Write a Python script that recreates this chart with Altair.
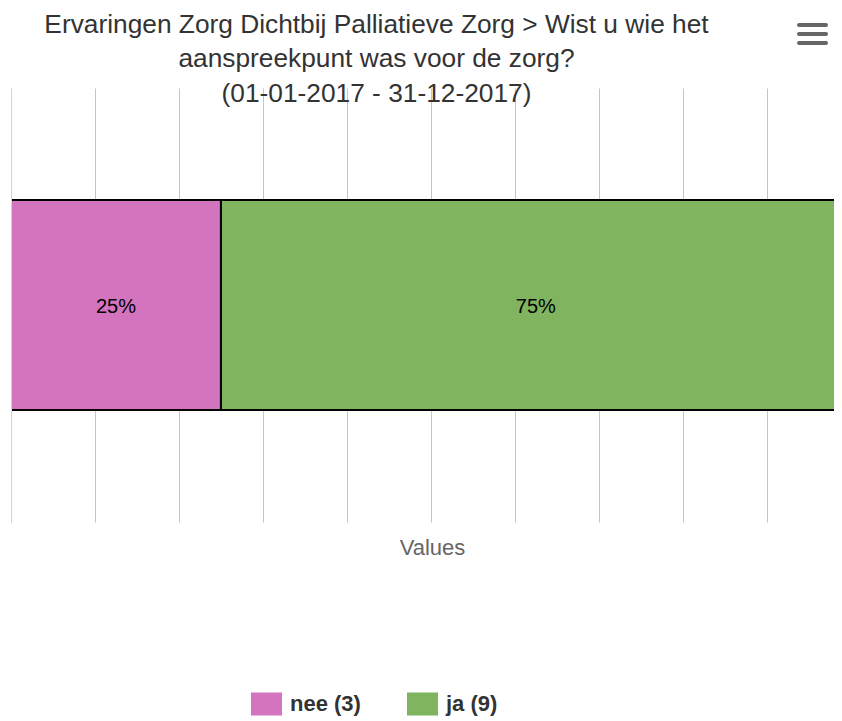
import altair as alt
import pandas as pd

question = "Wist u wie het aanspreekpunt was voor de zorg?"
answers = ["nee", "ja"]
counts = [3, 9]
colors = ["#d473be", "#80b45f"]
title_lines = [
    "Ervaringen Zorg Dichtbij Palliatieve Zorg > Wist u wie het",
    "aanspreekpunt was voor de zorg?",
    "(01-01-2017 - 31-12-2017)",
]
grid_values = [0, 0.1, 0.2, 0.3, 0.4, 0.5, 0.6, 0.7, 0.8, 0.9]
# visible part of the value axis (the reference plot runs past the right edge)
x_domain = [0, 0.98]

labels = [f"{a} ({c})" for a, c in zip(answers, counts)]
df = pd.DataFrame({
    "question": [question] * len(answers),
    "answer": answers,
    "count": counts,
    "label": labels,
    "order": list(range(len(answers))),
})

FONT = "Liberation Sans"

base = (
    alt.Chart(df)
    .transform_joinaggregate(total="sum(count)")
    .transform_window(cum="sum(count)", sort=[alt.SortField("order")], frame=[None, 0])
    .transform_calculate(
        mid="(datum.cum - datum.count / 2) / datum.total",
        pct="format(datum.count / datum.total, '.0%')",
    )
)

x_axis = alt.Axis(
    values=grid_values, labels=False, ticks=False, domain=False,
    grid=True, gridColor="#c4c4c4", gridWidth=1,
    title="Values", titleColor="#666666", titleFontSize=22,
    titleFontWeight="normal", titleFont=FONT, titlePadding=15,
    titleX=421, titleAlign="center",
)
x_scale = alt.Scale(domain=x_domain, nice=False, zero=True)
y_axis = alt.Axis(title=None, labels=False, ticks=False, grid=False,
                  domain=True, domainColor="#ccd6eb", domainWidth=1, zindex=1)
y_scale = alt.Scale(paddingInner=0, paddingOuter=0.533)

bars = base.mark_bar(stroke="black", strokeWidth=2, clip=True).encode(
    x=alt.X("count:Q", stack="normalize", scale=x_scale, axis=x_axis),
    y=alt.Y("question:N", scale=y_scale, axis=y_axis),
    color=alt.Color(
        "label:N",
        scale=alt.Scale(domain=labels, range=colors),
        legend=alt.Legend(
            title=None, orient="none", legendX=240, legendY=600,
            direction="horizontal",
            symbolType="M-1,-0.742H1V0.742H-1Z", symbolSize=961,
            symbolStrokeWidth=0, symbolOpacity=1,
            labelFontSize=22, labelFontWeight="bold", labelColor="#333333",
            labelFont=FONT, labelOffset=8, columnPadding=46, padding=0,
        ),
    ),
    order=alt.Order("order:Q"),
)

texts = base.mark_text(fontSize=20, color="black", font=FONT, dy=2).encode(
    x=alt.X("mid:Q", scale=x_scale, axis=x_axis),
    y=alt.Y("question:N", scale=y_scale, axis=y_axis),
    text="pct:N",
)

# export-menu icon (three bars) at the top right, as in the reference
menu = [
    alt.Chart(pd.DataFrame({"icon": [0]}))
    .mark_rule(color="#666666", strokeWidth=4, strokeCap="round")
    .encode(x=alt.value(788), x2=alt.value(815), y=alt.value(yy))
    for yy in (-63, -54, -45)
]

chart = (
    alt.layer(bars, texts, *menu)
    .properties(
        width=823,
        height=434,
        autosize=alt.AutoSizeParams(type="none"),
        padding={"left": 3, "top": 80, "right": 0, "bottom": 199},
        title=alt.TitleParams(
            text=title_lines, fontSize=26.3, font=FONT, fontWeight="normal",
            color="#333333", lineHeight=34.5, anchor="middle", dx=-46,
            offset=-84, frame="group",
        ),
    )
    .configure_view(stroke=None)
)

chart.save("out.html", embed_options={"renderer": "svg", "actions": False})
